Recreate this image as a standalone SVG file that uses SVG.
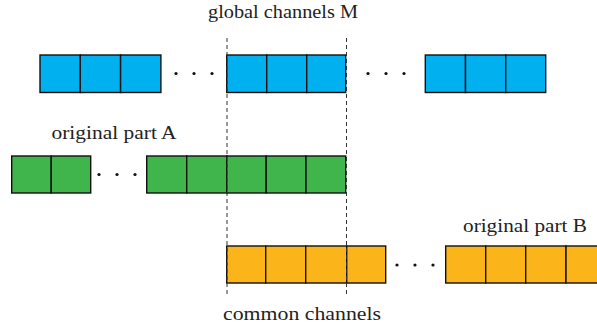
<svg xmlns="http://www.w3.org/2000/svg" width="597" height="330" viewBox="0 0 597 330">
<style>
.b{fill:#00B0EF;stroke:#111;stroke-width:1.4}
.g{fill:#40B54B;stroke:#111;stroke-width:1.4}
.o{fill:#FBB51A;stroke:#111;stroke-width:1.4}
.dot{fill:#111}
.dash{stroke:#333;stroke-width:1;stroke-dasharray:4 3;fill:none}
text{font-family:"Liberation Serif","Times New Roman",serif;font-size:18px;fill:#222}
</style>
<rect width="597" height="330" fill="#fff"/>
<g id="global-channels">
<rect class="b" x="40" y="55" width="40.3" height="37.5"/>
<rect class="b" x="80.3" y="55" width="40.3" height="37.5"/>
<rect class="b" x="120.6" y="55" width="40.3" height="37.5"/>
<circle class="dot" cx="176" cy="73.5" r="1.6"/>
<circle class="dot" cx="194" cy="73.5" r="1.6"/>
<circle class="dot" cx="212" cy="73.5" r="1.6"/>
<rect class="b" x="226.7" y="55" width="40" height="37.5"/>
<rect class="b" x="266.7" y="55" width="40" height="37.5"/>
<rect class="b" x="306.7" y="55" width="39" height="37.5"/>
<circle class="dot" cx="368" cy="73.5" r="1.6"/>
<circle class="dot" cx="386" cy="73.5" r="1.6"/>
<circle class="dot" cx="404" cy="73.5" r="1.6"/>
<rect class="b" x="425.3" y="55" width="40.2" height="37.5"/>
<rect class="b" x="465.5" y="55" width="40.2" height="37.5"/>
<rect class="b" x="505.7" y="55" width="40" height="37.5"/>
<text x="283" y="18" text-anchor="middle" textLength="150" lengthAdjust="spacingAndGlyphs">global channels M</text>
</g>
<g id="part-a">
<rect class="g" x="11.7" y="156" width="39.5" height="37"/>
<rect class="g" x="51.2" y="156" width="39.5" height="37"/>
<circle class="dot" cx="99" cy="174.5" r="1.6"/>
<circle class="dot" cx="117" cy="174.5" r="1.6"/>
<circle class="dot" cx="135" cy="174.5" r="1.6"/>
<rect class="g" x="146.7" y="156" width="40" height="37"/>
<rect class="g" x="186.7" y="156" width="40" height="37"/>
<rect class="g" x="226.7" y="156" width="39.5" height="37"/>
<rect class="g" x="266.2" y="156" width="39.8" height="37"/>
<rect class="g" x="306" y="156" width="39.7" height="37"/>
<text x="114" y="139" text-anchor="middle" textLength="125" lengthAdjust="spacingAndGlyphs">original part A</text>
</g>
<g id="part-b">
<rect class="o" x="226.7" y="246" width="39" height="37"/>
<rect class="o" x="265.7" y="246" width="40" height="37"/>
<rect class="o" x="305.7" y="246" width="41" height="37"/>
<rect class="o" x="346.7" y="246" width="39" height="37"/>
<circle class="dot" cx="397" cy="265" r="1.6"/>
<circle class="dot" cx="415" cy="265" r="1.6"/>
<circle class="dot" cx="433" cy="265" r="1.6"/>
<rect class="o" x="445.7" y="246" width="40" height="37"/>
<rect class="o" x="485.7" y="246" width="40" height="37"/>
<rect class="o" x="525.7" y="246" width="40.3" height="37"/>
<rect class="o" x="566" y="246" width="40" height="37"/>
<text x="525" y="232" text-anchor="middle" textLength="124" lengthAdjust="spacingAndGlyphs">original part B</text>
</g>
<g id="connectors">
<line class="dash" x1="227" y1="38" x2="227" y2="294"/>
<line class="dash" x1="346.5" y1="38" x2="346.5" y2="297"/>
</g>
<g id="common-channels">
<text x="302" y="320" text-anchor="middle" textLength="158" lengthAdjust="spacingAndGlyphs">common channels</text>
</g>
</svg>
